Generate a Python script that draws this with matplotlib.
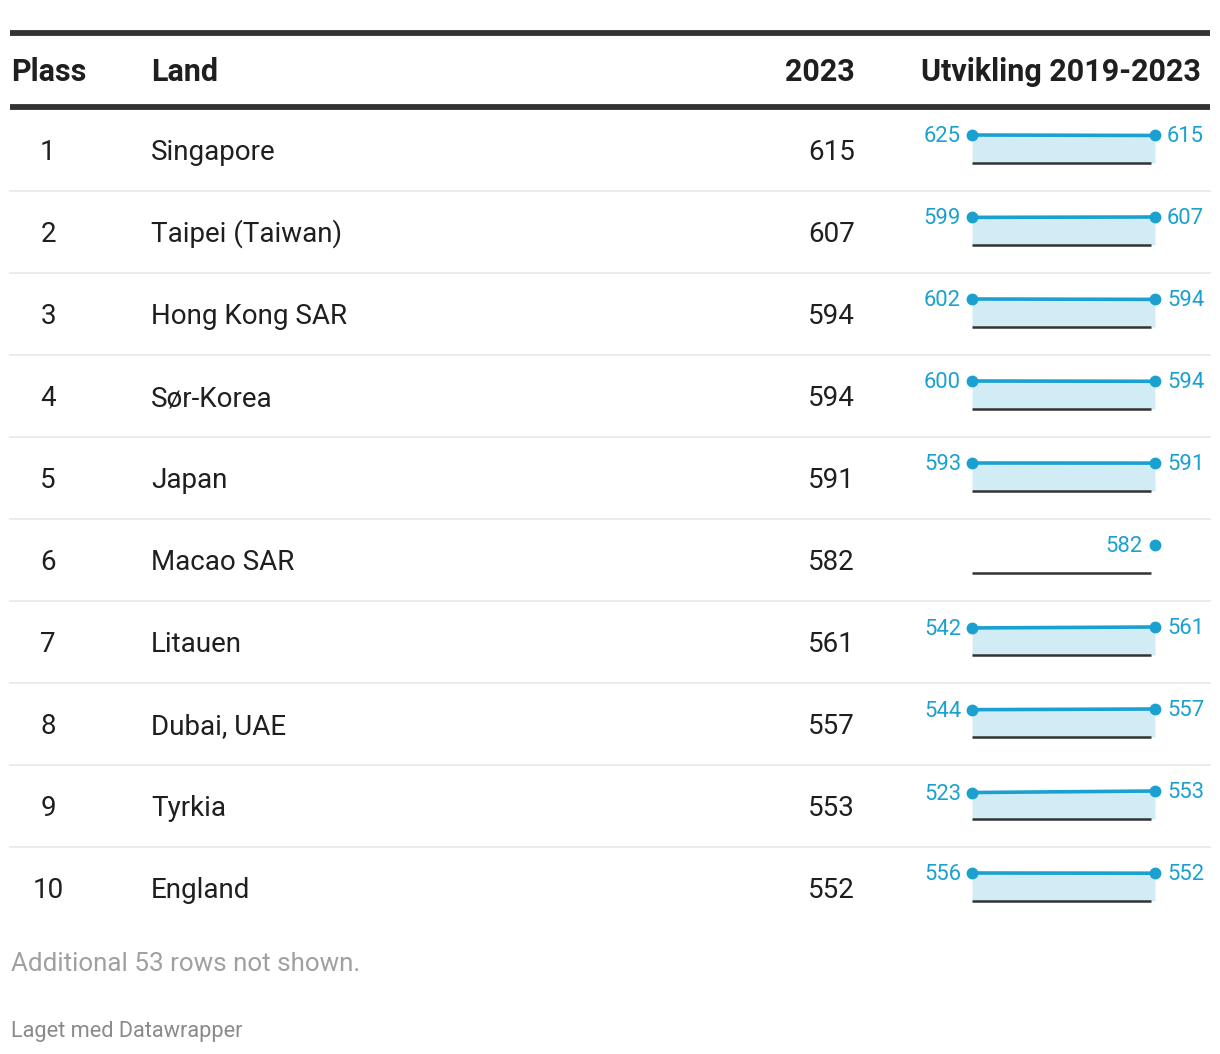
import matplotlib
matplotlib.use("Agg")
import matplotlib.pyplot as plt
import numpy as np

plt.rcParams['font.family'] = ['Roboto', 'DejaVu Sans']

ranks = [1, 2, 3, 4, 5, 6, 7, 8, 9, 10]
countries = ["Singapore", "Taipei (Taiwan)", "Hong Kong SAR", "Sør-Korea", "Japan",
             "Macao SAR", "Litauen", "Dubai, UAE", "Tyrkia", "England"]
values_2023 = [615, 607, 594, 594, 591, 582, 561, 557, 553, 552]
values_2019 = [625, 599, 602, 600, 593, None, 542, 544, 523, 556]
years = [2019, 2023]
headers = ["Plass", "Land", "2023", "Utvikling 2019-2023"]
footer_note = "Additional 53 rows not shown."
credit = "Laget med Datawrapper"

W, H = 1220, 1054
fig = plt.figure(figsize=(W / 100, H / 100), dpi=100)
ax = fig.add_axes([0, 0, 1, 1])
ax.set_xlim(0, W)
ax.set_ylim(H, 0)
ax.axis("off")

DARK = "#333333"
TXT = "#1f1f1f"
BLUE = "#1aa1d0"
FILL = "#d2ecf5"

# header
ax.plot([10, 1210], [33, 33], color=DARK, lw=4.2, solid_capstyle="butt")
ax.plot([10, 1210], [107, 107], color=DARK, lw=4.2, solid_capstyle="butt")
hb = 81
hfs = 22.0
ax.text(11, hb, headers[0], fontsize=hfs, fontweight="bold", color=TXT, ha="left", va="baseline")
ax.text(151, hb, headers[1], fontsize=hfs, fontweight="bold", color=TXT, ha="left", va="baseline")
ax.text(855, hb, headers[2], fontsize=hfs, fontweight="bold", color=TXT, ha="right", va="baseline")
ax.text(1201, hb, headers[3], fontsize=hfs, fontweight="bold", color=TXT, ha="right", va="baseline")

bfs = 20
row0, step = 150, 82
n = len(countries)
for i in range(n):
    yc = row0 + step * i
    base = yc + 10
    ax.text(48, base, str(ranks[i]), fontsize=bfs, color=TXT, ha="center", va="baseline")
    ax.text(151, base, countries[i], fontsize=bfs, color=TXT, ha="left", va="baseline")
    ax.text(855, base, str(values_2023[i]), fontsize=bfs, color=TXT, ha="right", va="baseline")
    if i < n - 1:
        ax.plot([10, 1210], [yc + 41, yc + 41], color="#e8e8e8", lw=1.2)

    # sparkline
    top_px, bot_px = yc - 15, yc + 13
    sax = fig.add_axes([972 / W, 1 - bot_px / H, (1155 - 972) / W, (bot_px - top_px) / H])
    sax.axis("off")
    sax.set_xlim(years[0], years[1])
    v19, v23 = values_2019[i], values_2023[i]
    vals = [v for v in (v19, v23) if v is not None]
    sax.set_ylim(0, max(vals))
    sax.plot([years[0], years[1] - 0.02 * (years[1] - years[0])], [0, 0],
             color=DARK, lw=1.8, solid_capstyle="butt", clip_on=False)
    lfs = 15.8
    if v19 is not None:
        sax.fill_between(years, [v19, v23], 0, color=FILL, lw=0, clip_on=False)
        sax.plot(years, [v19, v23], color=BLUE, lw=2.6, clip_on=False,
                 marker="o", markersize=7.5, zorder=5)
        sax.annotate(str(v19), (years[0], v19), xytext=(-11, -7), textcoords="offset pixels",
                     ha="right", va="baseline", fontsize=lfs, color=BLUE)
        sax.annotate(str(v23), (years[1], v23), xytext=(12, -7), textcoords="offset pixels",
                     ha="left", va="baseline", fontsize=lfs, color=BLUE)
    else:
        sax.plot([years[1]], [v23], color=BLUE, marker="o", markersize=7.5,
                 clip_on=False, zorder=5)
        sax.annotate(str(v23), (years[1], v23), xytext=(-12, -7), textcoords="offset pixels",
                     ha="right", va="baseline", fontsize=lfs, color=BLUE)

ax.text(11, 971, footer_note, fontsize=18.7, color="#a0a0a0", ha="left", va="baseline")
ax.text(11, 1037, credit, fontsize=15.7, color="#8a8a8a", ha="left", va="baseline")

fig.savefig("out.png", dpi=100)
